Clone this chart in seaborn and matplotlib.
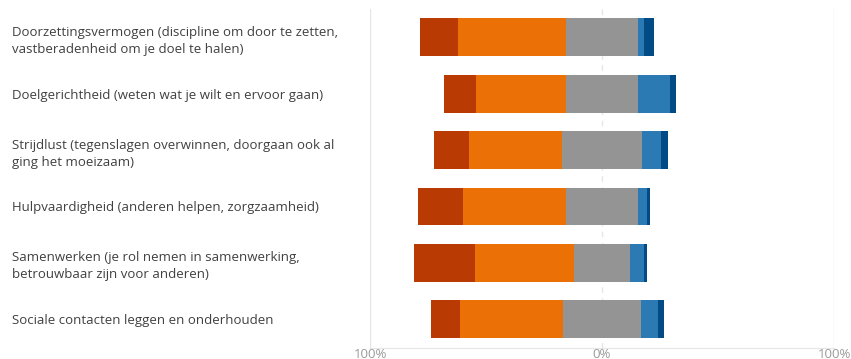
import numpy as np
import pandas as pd
import matplotlib
matplotlib.use("Agg")
import matplotlib.pyplot as plt
import seaborn as sns

categories = [
    "Doorzettingsvermogen (discipline om door te zetten,\nvastberadenheid om je doel te halen)",
    "Doelgerichtheid (weten wat je wilt en ervoor gaan)",
    "Strijdlust (tegenslagen overwinnen, doorgaan ook al\nging het moeizaam)",
    "Hulpvaardigheid (anderen helpen, zorgzaamheid)",
    "Samenwerken (je rol nemen in samenwerking,\nbetrouwbaar zijn voor anderen)",
    "Sociale contacten leggen en onderhouden",
]
red_vals = [16.4, 13.7, 15.1, 19.3, 26.6, 12.7]
orange_vals = [46.6, 38.9, 40.0, 44.5, 42.5, 44.5]
gray_vals = [31.2, 31.2, 34.5, 31.2, 24.1, 33.3]
lightblue_vals = [2.6, 13.6, 8.3, 3.9, 6.0, 7.5]
darkblue_vals = [4.1, 2.5, 2.7, 1.3, 1.4, 2.6]
tick_labels = ["100%", "0%", "100%"]

colors = {"red": "#B93A02", "orange": "#EB7107", "gray": "#949494",
          "lightblue": "#2C7AB3", "darkblue": "#034B84"}

df = pd.DataFrame({"cat": categories, "red": red_vals, "orange": orange_vals,
                   "gray": gray_vals, "lightblue": lightblue_vals,
                   "darkblue": darkblue_vals})
half = df["gray"] / 2
df["neg_red"] = -(df["red"] + df["orange"] + half)
df["neg_orange"] = -(df["orange"] + half)
df["neg_gray"] = -half
df["pos_db"] = half + df["lightblue"] + df["darkblue"]
df["pos_lb"] = half + df["lightblue"]
df["pos_gray"] = half

sns.set_style("white")
plt.rcParams["font.family"] = ["Open Sans", "DejaVu Sans"]

fig = plt.figure(figsize=(8.51, 3.59), dpi=100)
ax = fig.add_axes([370 / 851, 1 - 347.5 / 359, (834 - 370) / 851, (347.5 - 9) / 359])

# gridlines
for xv, ls in [(-100, "-"), (0, (0, (4, 4))), (100, "-")]:
    ax.axvline(xv, color="#E6E6E6", lw=1, ls=ls, zorder=0)

order = [
    ("neg_red", "red"), ("neg_orange", "orange"), ("neg_gray", "gray"),
    ("pos_db", "darkblue"), ("pos_lb", "lightblue"), ("pos_gray", "gray"),
]
for col, c in order:
    sns.barplot(data=df, x=col, y="cat", orient="h", color=colors[c],
                saturation=1, width=0.67, ax=ax, zorder=2, linewidth=0)

ax.set_xlim(-100, 100)
ax.set_ylim(5.5, -0.5)
ax.set_xticks([-100, 0, 100])
ax.set_xticklabels(tick_labels, color="#9A9A9A", fontsize=9.5)
ax.set_xlabel("")
ax.set_ylabel("")
for s in ["top", "right", "left"]:
    ax.spines[s].set_visible(False)
ax.spines["bottom"].set_color("#E6E6E6")
ax.tick_params(axis="x", length=0, pad=0)
ax.tick_params(axis="y", length=0, pad=257.8)
for lab in ax.get_yticklabels():
    lab.set_horizontalalignment("left")
    lab.set_color("#404040")
    lab.set_fontsize(9.5)
    lab.set_linespacing(1.4)

fig.savefig("out.png", dpi=100)
